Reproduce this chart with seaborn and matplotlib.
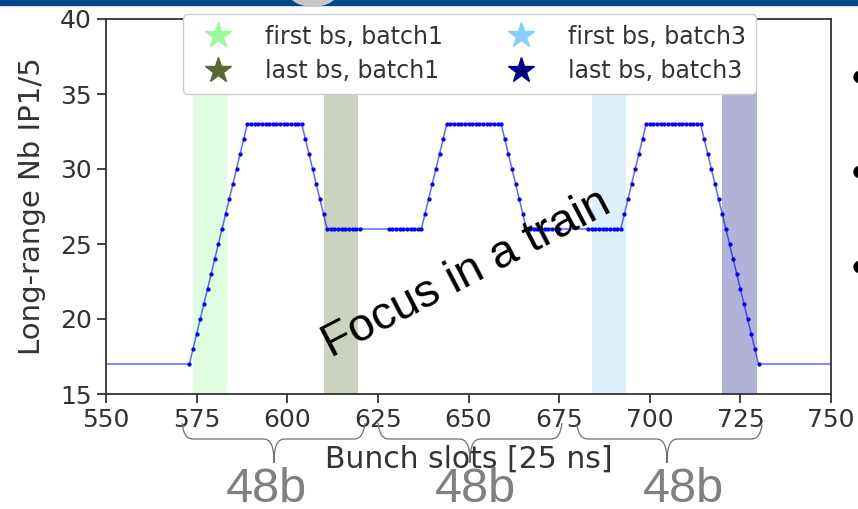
import matplotlib
matplotlib.use("Agg")
import matplotlib.pyplot as plt
import matplotlib.patches as mpatches
from matplotlib.path import Path
from matplotlib.lines import Line2D
import seaborn as sns
import pandas as pd
import numpy as np

# 三个48b batch的长程相互作用数
slots_b1 = list(range(573, 621))
lr_b1 = [17, 18, 19, 20, 21, 22, 23, 24, 25, 26, 27, 28, 29, 30, 31, 32, 33,
         33, 33, 33, 33, 33, 33, 33, 33, 33, 33, 33, 33, 33, 33, 33,
         32, 31, 30, 29, 28, 27, 26,
         26, 26, 26, 26, 26, 26, 26, 26, 26]
slots_b2 = list(range(628, 676))
lr_b2 = [26, 26, 26, 26, 26, 26, 26, 26, 26, 26,
         27, 28, 29, 30, 31, 32, 33,
         33, 33, 33, 33, 33, 33, 33, 33, 33, 33, 33, 33, 33, 33, 33,
         32, 31, 30, 29, 28, 27, 26,
         26, 26, 26, 26, 26, 26, 26, 26, 26]
slots_b3 = list(range(683, 731))
lr_b3 = [26, 26, 26, 26, 26, 26, 26, 26, 26, 26,
         27, 28, 29, 30, 31, 32, 33,
         33, 33, 33, 33, 33, 33, 33, 33, 33, 33, 33, 33, 33, 33, 33,
         32, 31, 30, 29, 28, 27, 26, 25, 24, 23, 22, 21, 20, 19, 18, 17]
# 视野外相邻train的bunch
edge_slots = [530, 770]
edge_lr = [17, 17]

# 阴影区间 (first/last bunches)
span_names = ["first bs, batch1", "last bs, batch1", "first bs, batch3", "last bs, batch3"]
span_lo = [574, 610, 684, 720]
span_hi = [583.5, 619.5, 693.5, 729.5]
span_colors = ["palegreen", "darkolivegreen", "lightskyblue", "navy"]

filled = pd.DataFrame({"slot": slots_b1 + slots_b2 + slots_b3,
                       "lr": lr_b1 + lr_b2 + lr_b3})
full = pd.concat([pd.DataFrame({"slot": edge_slots, "lr": edge_lr}), filled]).sort_values("slot")

sns.set_style("ticks")
plt.rcParams["font.family"] = ["DejaVu Sans"]
plt.rcParams["axes.edgecolor"] = "#333333"
plt.rcParams["axes.linewidth"] = 1.3

W, H = 858, 509
fig = plt.figure(figsize=(W / 100, H / 100), dpi=100)
ax = fig.add_axes([106 / W, 1 - 394 / H, 725 / W, 375 / H])

for lo, hi, c in zip(span_lo, span_hi, span_colors):
    ax.axvspan(lo, hi, color=c, alpha=0.3, lw=0)

sns.lineplot(data=full, x="slot", y="lr", color="blue", lw=1.1, alpha=0.6, ax=ax, sort=False)
sns.scatterplot(data=filled, x="slot", y="lr", marker=".", s=38, color="blue", linewidth=0, ax=ax)

ax.set_xlim(550, 750)
ax.set_ylim(15, 40)
ax.set_xticks(np.arange(550, 751, 25))
ax.set_yticks(np.arange(15, 41, 5))
ax.tick_params(labelsize=18, length=6.5, width=1.3, colors="#333333", labelcolor="#333333")
ax.set_xlabel("Bunch slots [25 ns]", fontsize=21.5, color="#333333", labelpad=9)
ax.set_ylabel("Long-range Nb IP1/5", fontsize=21, color="#333333", labelpad=10)

handles = [Line2D([], [], marker="*", ls="", color=c, markersize=19) for c in span_colors]
leg = ax.legend(handles, span_names, ncol=2, loc="upper center", bbox_to_anchor=(0.502, 1.013),
                borderaxespad=0, fontsize=17, labelspacing=0.45, columnspacing=2.3,
                handletextpad=1.0, borderpad=0.45, framealpha=1)
for t in leg.get_texts():
    t.set_color("#333333")


# 幻灯片上的装饰: 大括号, 文字
def px(x, y):
    return (x / W, 1 - y / H)


def brace(xl, xr, xt, y_end, y_bar, y_tip):
    pts = [(xl, y_end), (xl + 2, y_bar - 3), (xl + 5, y_bar), (xl + 12, y_bar),
           (xt - 11, y_bar),
           (xt - 4, y_bar), (xt, y_bar + 5), (xt, y_tip),
           (xt, y_bar + 5), (xt + 4, y_bar), (xt + 11, y_bar),
           (xr - 12, y_bar),
           (xr - 5, y_bar), (xr - 2, y_bar - 3), (xr, y_end)]
    codes = [Path.MOVETO] + [Path.CURVE4] * 3 + [Path.LINETO] + [Path.CURVE4] * 6 + \
            [Path.LINETO] + [Path.CURVE4] * 3
    path = Path([px(*p) for p in pts], codes)
    fig.add_artist(mpatches.PathPatch(path, fc="none", ec="#707070", lw=0.9,
                                      transform=fig.transFigure))


brace(182, 365, 274, 423, 439, 463)
brace(378, 562, 470, 423, 439, 463)
brace(577, 762, 667, 425, 439, 463)

for xc in [266, 475, 683]:
    fig.text(*px(xc, 502), "48b", fontsize=35, color="#808080", family="Liberation Sans",
             ha="center", va="baseline")

fig.text(*px(331, 358), "Focus in a train", fontsize=33.5, color="black", family="Liberation Sans",
         rotation=27.5, rotation_mode="anchor", ha="left", va="baseline")

# 顶部蓝条和右侧的项目符号
fig.add_artist(mpatches.Rectangle(px(0, 5), 1, 5 / H, color="#06468c", transform=fig.transFigure))
fig.add_artist(mpatches.Ellipse(px(313, -7), 47 / W, 26 / H, color="#c8c8c8", transform=fig.transFigure))
for yb in [77, 172, 267]:
    fig.add_artist(mpatches.Ellipse(px(859.5, yb), 11 / W, 11 / H, color="black", transform=fig.transFigure))

plt.savefig("out.png", dpi=100)
